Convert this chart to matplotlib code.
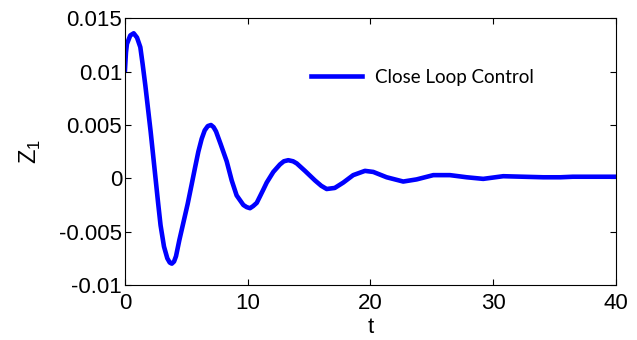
import numpy as np
import matplotlib.pyplot as plt

# values
t = [0.0, 0.08, 0.16, 0.43, 0.71, 0.98, 1.25, 1.44, 1.66, 1.87, 2.09, 2.30,
     2.50, 2.70, 2.90, 3.18, 3.45, 3.65, 3.82, 4.00, 4.16, 4.43, 4.75, 5.11,
     5.43, 5.71, 5.98, 6.25, 6.50, 6.75, 7.01, 7.22, 7.42, 7.80, 8.29, 8.70,
     9.10, 9.65, 9.92, 10.19, 10.45, 10.74, 11.0, 11.3, 11.55, 12.09, 12.63,
     12.95, 13.31, 13.7, 14.0, 14.67, 15.49, 16.0, 16.44, 17.1, 17.79, 18.6,
     19.56, 20.24, 21.33, 22.68, 23.77, 25.13, 26.49, 27.85, 29.2, 30.83,
     34.09, 35.5, 36.5, 40.0]
z1 = [0.0102, 0.0118, 0.0126, 0.0134, 0.0136, 0.0132, 0.0123, 0.0107, 0.0087,
      0.0066, 0.0044, 0.0021, -0.0001, -0.0023, -0.0044, -0.0064, -0.0075,
      -0.0079, -0.0080, -0.0078, -0.0073, -0.0058, -0.0042, -0.0024, -0.0006,
      0.0010, 0.0025, 0.0037, 0.0045, 0.0049, 0.0050, 0.0048, 0.0044, 0.0032,
      0.0016, -0.0002, -0.0016, -0.0025, -0.0027, -0.0028, -0.0026, -0.0023,
      -0.0017, -0.0010, -0.0004, 0.0006, 0.0013, 0.0016, 0.0017, 0.0016,
      0.0014, 0.0007, -0.0002, -0.0007, -0.0010, -0.0009, -0.0004, 0.0003,
      0.0007, 0.0006, 0.0001, -0.0003, -0.0001, 0.0003, 0.0003, 0.0001,
      -0.00005, 0.0002, 0.0001, 0.0001, 0.00015, 0.00015]

xticks = [0, 10, 20, 30, 40]
yticks = [-0.01, -0.005, 0, 0.005, 0.01, 0.015]
ytick_labels = ['-0.01', '-0.005', '0', '0.005', '0.01', '0.015']

plt.rcParams['font.family'] = ['Liberation Sans', 'DejaVu Sans']

fig = plt.figure(figsize=(6.37, 3.40), dpi=100)
ax = fig.add_axes([0.1962, 0.1618, 0.7704, 0.7842])

ax.plot(t, z1, color='#0000ff', linewidth=3.3, solid_joinstyle='round',
        label='Close Loop Control')

ax.set_xlim(0, 40)
ax.set_ylim(-0.01, 0.015)
ax.set_xticks(xticks)
ax.set_xticklabels([str(v) for v in xticks])
ax.set_yticks(yticks)
ax.set_yticklabels(ytick_labels)
ax.tick_params(direction='in', top=True, right=True, length=4, width=0.8,
               labelsize=16)
ax.tick_params(axis='x', pad=6)
ax.tick_params(axis='y', pad=2)
for s in ax.spines.values():
    s.set_linewidth(0.8)

ax.set_xlabel('t', fontsize=16, labelpad=2)
ax.set_ylabel(r'Z$_\mathregular{1}$', fontsize=17, labelpad=12)

leg = ax.legend(loc='upper left', bbox_to_anchor=(0.345, 0.875), frameon=False,
                prop={'family': 'Lato', 'size': 13.5}, handlelength=2.7,
                handletextpad=0.7)

fig.savefig('out.png', dpi=100)
